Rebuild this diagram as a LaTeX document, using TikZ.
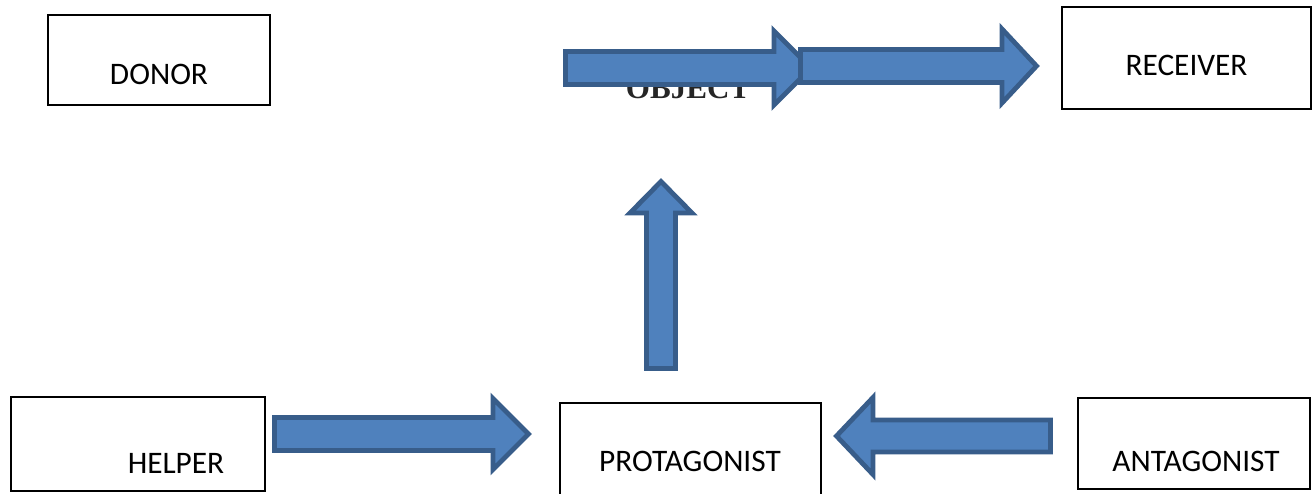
\documentclass[tikz,border=0pt]{standalone}
\usepackage{fontspec}
\setmainfont{Carlito}
\newfontfamily\objfont{Liberation Serif}
\usetikzlibrary{fit}
\definecolor{blkfill}{HTML}{4F81BD}
\definecolor{blkline}{HTML}{385D8A}
\newcommand\rarrow[6]{% x0, head base, tip, yc, half body, half head
  \draw[blk] ({#1},{#4-#5}) -- ({#2},{#4-#5}) -- ({#2},{#4-#6}) -- ({#3},{#4}) -- ({#2},{#4+#6}) -- ({#2},{#4+#5}) -- ({#1},{#4+#5}) -- cycle;}
\newcommand\uarrow[6]{% y0 (bottom), head base, tip, xc, half body, half head
  \draw[blk] ({#4-#5},{#1}) -- ({#4-#5},{#2}) -- ({#4-#6},{#2}) -- ({#4},{#3}) -- ({#4+#6},{#2}) -- ({#4+#5},{#2}) -- ({#4+#5},{#1}) -- cycle;}
\tikzset{
  box/.style={draw=black, line width=1pt, inner sep=0pt, fill=white},
  lbl/.style={anchor=base, inner sep=0pt, font=\fontsize{23.5}{28}\selectfont},
  blk/.style={fill=blkfill, draw=blkline, line width=3.6pt, line join=miter},
}
\begin{document}
\begin{tikzpicture}[x=0.75pt, y=-0.75pt]
\useasboundingbox (0,0) rectangle (1312,493);
\clip (0,0) rectangle (1312,493);
% boxes
\node[box, fit={(48,15) (270,105)}] (donor) {};
\node[box, fit={(1062,7) (1311,109)}] (receiver) {};
\node[box, fit={(11,397) (265,491)}] (helper) {};
\node[box, fit={(560,403) (821,520)}] (protagonist) {};
\node[box, fit={(1078,398) (1310,489)}] (antagonist) {};
% labels
\node[lbl] (donorT) at (159,84) {DONOR};
\node[lbl] (receiverT) at (1186.5,75) {RECEIVER};
\node[lbl] (helperT) at (176,473) {HELPER};
\node[lbl] (protagonistT) at (690,471) {PROTAGONIST};
\node[lbl] (antagonistT) at (1196,471) {ANTAGONIST};
\node[anchor=base, inner sep=0pt, text=black!85, font=\objfont\bfseries\fontsize{23.3}{28}\selectfont] (object) at (688,98) {OBJECT};
% block arrows
\rarrow{274.5}{493}{528.5}{434}{16.5}{35.5}
\rarrow{1050.5}{873}{836.5}{436}{16}{38.5}
\uarrow{368.5}{213}{181.5}{661}{14.5}{31}
\rarrow{565.5}{774}{811}{68}{16.5}{37}
\rarrow{800.5}{1002}{1036.5}{66}{16.5}{37}
\end{tikzpicture}
\end{document}
